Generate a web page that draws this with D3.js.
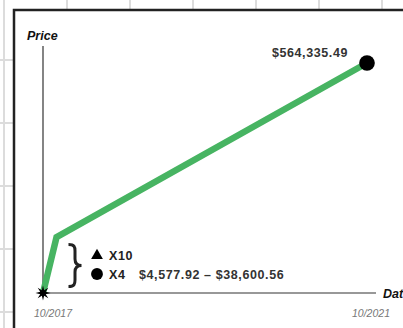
<!DOCTYPE html>
<html><head><meta charset="utf-8">
<script src="https://cdn.jsdelivr.net/npm/d3@7"></script>
<style>body{margin:0;background:#fff;overflow:hidden}svg{display:block}</style>
</head><body>
<svg id="c" width="403" height="328"></svg>
<script>
const dates = ["2017-10-01", "2017-12-01", "2021-10-01"];
const prices = [0, 137000, 564335.49];
const tickLabels = ["10/2017", "10/2021"];
const endLabel = "$564,335.49";
const legendItems = [{shape: "triangle", label: "X10", extra: ""}, {shape: "circle", label: "X4", extra: "$4,577.92 – $38,600.56"}];

const svg = d3.select("#c");
const W = 403, H = 328;
const parse = d3.timeParse("%Y-%m-%d");
const data = dates.map((d, i) => ({date: parse(d), price: prices[i]}));
const FONT = "Liberation Sans, Arial, sans-serif";

// background grid
const g0 = svg.append("g");
d3.range(4, W + 63, 63).forEach(x => g0.append("line").attr("x1", x).attr("x2", x).attr("y1", 0).attr("y2", H).attr("stroke", "#dcdcdc").attr("stroke-width", 2));
d3.range(60, H + 63, 63).forEach(y => g0.append("line").attr("x1", 0).attr("x2", W).attr("y1", y).attr("y2", y).attr("stroke", "#dcdcdc").attr("stroke-width", 2));

// card
svg.append("rect").attr("x", 14).attr("y", 10).attr("width", 500).attr("height", 400)
  .attr("fill", "#fff").attr("stroke", "#222").attr("stroke-width", 2.5);

const x = d3.scaleTime().domain([parse("2017-10-01"), parse("2021-10-01")]).range([43, 367]);
const y = d3.scaleLinear().domain([0, 564335.49]).range([293, 63]);

// axes
svg.append("line").attr("x1", 43).attr("x2", 43).attr("y1", 46).attr("y2", 293).attr("stroke", "#333").attr("stroke-width", 1.2);
svg.append("line").attr("x1", 43).attr("x2", 376).attr("y1", 293).attr("y2", 293).attr("stroke", "#333").attr("stroke-width", 1.2);

svg.append("text").attr("x", 27).attr("y", 40).text("Price")
  .attr("font-family", FONT).attr("font-weight", "bold").attr("font-style", "italic").attr("font-size", 12.5).attr("fill", "#111");
svg.append("text").attr("x", 383).attr("y", 298).text("Date")
  .attr("font-family", FONT).attr("font-weight", "bold").attr("font-style", "italic").attr("font-size", 12.5).attr("fill", "#111");

const tickDates = [parse("2017-10-01"), parse("2021-10-01")];
svg.selectAll(".tk").data(tickDates).enter().append("text")
  .attr("x", (d, i) => x(d) + (i === 0 ? 10 : 4)).attr("y", 317).attr("text-anchor", "middle")
  .text((d, i) => tickLabels[i])
  .attr("font-family", FONT).attr("font-style", "italic").attr("font-size", 10.5).attr("fill", "#777");

// line
const line = d3.line().x(d => x(d.date)).y(d => y(d.price));
svg.append("path").datum(data).attr("d", line).attr("fill", "none").attr("stroke", "#47b462").attr("stroke-width", 6.5).attr("stroke-linejoin", "miter");

// end dot
const last = data[data.length - 1];
svg.append("circle").attr("cx", x(last.date)).attr("cy", y(last.price)).attr("r", 7.8).attr("fill", "#000");
svg.append("text").attr("x", x(last.date) - 19).attr("y", y(last.price) - 6).attr("text-anchor", "end").text(endLabel)
  .attr("font-family", FONT).attr("font-weight", "bold").attr("font-size", 12.5).attr("letter-spacing", 0.6).attr("fill", "#333");

// star at start
const first = data[0];
const pts = d3.range(16).map(i => [i * Math.PI / 8, i % 2 ? 3 : 7.5]);
svg.append("path").attr("d", d3.lineRadial().curve(d3.curveLinearClosed)(pts))
  .attr("transform", `translate(${x(first.date)},${y(first.price)})`).attr("fill", "#000");

// brace
svg.append("path")
  .attr("d", "M68.5,244.5 C74.5,244.5 75,247 75,251 L75,259 C75,263 77,265.5 81.5,265.5 C77,265.5 75,268 75,272 L75,280 C75,284 74.5,286.5 68.5,286.5")
  .attr("fill", "none").attr("stroke", "#222").attr("stroke-width", 3);

// legend
const lg = svg.append("g").attr("font-family", FONT).attr("font-weight", "bold").attr("font-size", 12.5).attr("letter-spacing", 0.6).attr("fill", "#222");
legendItems.forEach((it, i) => {
  const cy = 255 + i * 19;
  const sym = it.shape === "triangle" ? d3.symbolTriangle : d3.symbolCircle;
  lg.append("path").attr("d", d3.symbol().type(sym).size(it.shape === "triangle" ? 60 : 110)()).attr("transform", `translate(97,${cy + (it.shape === "triangle" ? 0.5 : 0)})`).attr("fill", "#000");
  lg.append("text").attr("x", 109).attr("y", cy + 4.5).text(it.label);
  if (it.extra) lg.append("text").attr("x", 139).attr("y", cy + 4.5).text(it.extra).attr("fill", "#333");
});
</script>
</body></html>
